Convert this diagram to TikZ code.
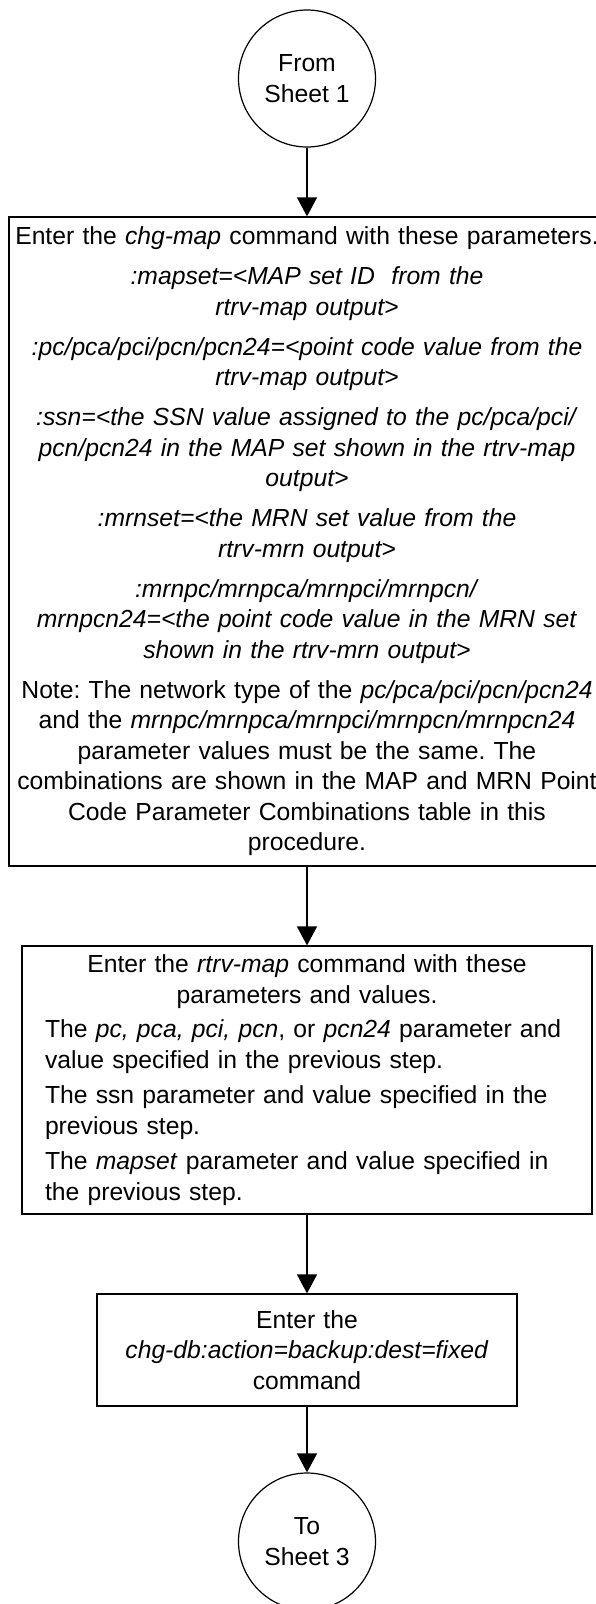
\documentclass[tikz,border=0pt]{standalone}
\usepackage{fontspec}
\setmainfont{Liberation Sans}
\usetikzlibrary{arrows.meta}
\setlength{\parindent}{0pt}
\frenchspacing
\begin{document}
\begin{tikzpicture}[x=1pt,y=-1pt,
  base/.style={draw, line width=1.2pt, font=\fontsize{24.7}{30.5}\selectfont},
  stepbox/.style={base, rectangle, inner sep=0pt},
  connector/.style={base, circle, minimum size=137pt, inner sep=0pt, align=center},
  arr/.style={-{Triangle[length=19pt,width=20pt]}, line width=1.2pt}]
\clip (0,0) rectangle (596,1604);
\node[connector] (c1) at (307,78.5) {From\\[0pt]Sheet 1};
\node[stepbox, minimum width=596pt, minimum height=649pt, text width=594pt, align=center] (b1) at (307,541.5) {%
Enter the \textit{chg-map} command with these parameters.\\[9.5pt]
\textit{:mapset=<MAP set ID~ from the}\\
\textit{rtrv-map output>}\\[9.5pt]
\textit{:pc/pca/pci/pcn/pcn24=<point code value from the}\\
\textit{rtrv-map output>}\\[9.5pt]
\textit{:ssn=<the SSN value assigned to the pc/pca/pci/}\\
\textit{pcn/pcn24 in the MAP set shown in the rtrv-map}\\
\textit{output>}\\[9.5pt]
\textit{:mrnset=<the MRN set value from the}\\
\textit{rtrv-mrn output>}\\[9.5pt]
\textit{:mrnpc/mrnpca/mrnpci/mrnpcn/}\\
\textit{mrnpcn24=<the point code value in the MRN set}\\
\textit{shown in the rtrv-mrn output>}\\[9.5pt]
Note: The network type of the \textit{pc/pca/pci/pcn/pcn24}\\
and the \textit{mrnpc/mrnpca/mrnpci/mrnpcn/mrnpcn24}\\
parameter values must be the same. The\\
combinations are shown in the MAP and MRN Point\\
Code Parameter Combinations table in this\\
procedure.};
\node[stepbox, minimum width=570pt, minimum height=268pt, text width=524pt, inner xsep=23pt] (b2) at (307,1080) {%
{\centering Enter the \textit{rtrv-map} command with these\\
parameters and values.\par}\vspace{4pt}
\raggedright
The \textit{pc, pca, pci, pcn}, or \textit{pcn24} parameter and\\
value specified in the previous step.\par\vspace{5pt}
The ssn parameter and value specified in the\\
previous step.\par\vspace{5pt}
The \textit{mapset} parameter and value specified in\\
the previous step.\par};
\node[stepbox, minimum width=420pt, minimum height=112pt, text width=418pt, align=center] (b3) at (307,1350) {%
Enter the\\
\textit{chg-db:action=backup:dest=fixed}\\
command};
\node[connector] (c2) at (307,1541.5) {To\\[0pt]Sheet 3};
\draw[arr] (c1) -- (b1);
\draw[arr] (b1) -- (b2);
\draw[arr] (b2) -- (b3);
\draw[arr] (b3) -- (c2);
\end{tikzpicture}
\end{document}
